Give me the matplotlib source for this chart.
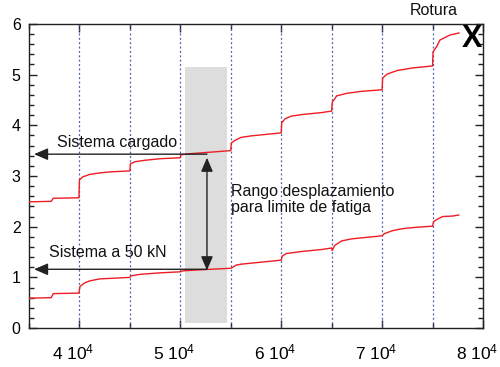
import matplotlib
matplotlib.use("Agg")
import matplotlib.pyplot as plt
from matplotlib.ticker import MultipleLocator, FixedLocator
from matplotlib.patches import Rectangle
from matplotlib.transforms import ScaledTranslation

plt.rcParams['font.family'] = ['Liberation Sans', 'DejaVu Sans']
plt.rcParams['mathtext.default'] = 'regular'

# Upper curve: "Sistema cargado"
x_upper = [35000, 37200, 37400, 39950, 40000, 40300, 41000, 42000, 43000, 45000,
           45050, 45500, 46500, 48000, 50000, 50050, 51000, 53000, 55000, 55050,
           55400, 56000, 57000, 58500, 60000, 60050, 60400, 61000, 62000, 64000,
           65000, 65050, 65500, 66500, 68000, 70000, 70050, 70500, 71500, 73000,
           75000, 75050, 75400, 75730, 76720, 77620]
y_upper = [2.49, 2.50, 2.56, 2.57, 2.92, 2.98, 3.03, 3.06, 3.08, 3.10,
           3.24, 3.28, 3.31, 3.34, 3.36, 3.42, 3.44, 3.47, 3.50, 3.65,
           3.70, 3.76, 3.79, 3.82, 3.85, 4.05, 4.13, 4.18, 4.21, 4.25,
           4.28, 4.45, 4.58, 4.63, 4.67, 4.70, 4.93, 5.01, 5.08, 5.13,
           5.17, 5.45, 5.55, 5.68, 5.78, 5.82]

# Lower curve: "Sistema a 50 kN"
x_lower = [35000, 37200, 37400, 39950, 40050, 40500, 41000, 42000, 43000, 45000,
           45100, 46000, 48000, 50000, 50300, 52000, 55000, 55200, 55500, 56000,
           58000, 60000, 60100, 60500, 62000, 64000, 65000, 65050, 65300, 66000,
           67000, 69000, 70000, 70200, 71000, 72000, 73500, 75000, 75100, 75500,
           76000, 77000, 77600]
y_lower = [0.59, 0.60, 0.68, 0.69, 0.82, 0.89, 0.93, 0.97, 0.98, 1.00,
           1.03, 1.06, 1.09, 1.11, 1.13, 1.15, 1.18, 1.20, 1.24, 1.26,
           1.30, 1.34, 1.42, 1.47, 1.51, 1.55, 1.58, 1.53, 1.63, 1.72,
           1.76, 1.80, 1.82, 1.86, 1.92, 1.96, 1.99, 2.01, 2.10, 2.15,
           2.20, 2.21, 2.23]

cycle_lines = [40000, 45000, 50000, 55000, 60000, 65000, 70000, 75000]
x_ticks = [40000, 50000, 60000, 70000, 80000]
x_tick_labels = ['4 10$^{4}$', '5 10$^{4}$', '6 10$^{4}$', '7 10$^{4}$', '8 10$^{4}$']
y_ticks = [0, 1, 2, 3, 4, 5, 6]

rango_x = [50500, 54600]
rango_y = [0.1, 5.15]
y_cargado = 3.43
y_50kN = 1.16
x_arrow = 52640
x_arrow_tip = 35500

fig = plt.figure(figsize=(5.0, 3.67), dpi=100)
ax = fig.add_axes([0.058, 0.106, 0.908, 0.829])

ax.set_xlim(35000, 80000)
ax.set_ylim(0, 6)

ax.add_patch(Rectangle((rango_x[0], rango_y[0]), rango_x[1] - rango_x[0],
                       rango_y[1] - rango_y[0], facecolor='#dcdddc',
                       edgecolor='none', zorder=1))

for xv in cycle_lines:
    ax.axvline(xv, color='#4a5cb8', lw=0.9, ls=(0, (1.5, 2)), zorder=2)

ax.plot(x_upper, y_upper, color='#ee1c24', lw=1.0, zorder=3)
ax.plot(x_lower, y_lower, color='#ee1c24', lw=1.0, zorder=3)

astyle = '-|>,head_length=0.7,head_width=0.3'
ax.annotate('', xy=(x_arrow_tip, y_cargado), xytext=(x_arrow, y_cargado),
            arrowprops=dict(arrowstyle=astyle, color='#222222', lw=1.0,
                            mutation_scale=12, shrinkA=0, shrinkB=0), zorder=4)
ax.annotate('', xy=(x_arrow_tip, y_50kN), xytext=(x_arrow, y_50kN),
            arrowprops=dict(arrowstyle=astyle, color='#222222', lw=1.0,
                            mutation_scale=12, shrinkA=0, shrinkB=0), zorder=4)
ax.annotate('', xy=(x_arrow, 3.36), xytext=(x_arrow, 1.14),
            arrowprops=dict(arrowstyle='<|-|>,head_length=0.7,head_width=0.3',
                            color='#222222', lw=1.0, mutation_scale=12,
                            shrinkA=0, shrinkB=0), zorder=4)

fs = 11.5
ax.text(43720, 3.57, 'Sistema cargado', ha='center', va='baseline', fontsize=fs, color='#111111')
ax.text(42830, 1.40, 'Sistema a 50 kN', ha='center', va='baseline', fontsize=fs, color='#111111')
ax.text(55020, 2.54, 'Rango desplazamiento\npara limite de fatiga', ha='left', va='center',
        fontsize=fs, linespacing=1.05, color='#111111')
ax.text(75140, 6.26, 'Rotura', ha='center', va='center', fontsize=fs, clip_on=False, color='#111111')
ax.text(78950, 5.70, 'X', ha='center', va='center', fontsize=22, fontweight='bold',
        clip_on=False, color='black', zorder=5)

ax.xaxis.set_major_locator(FixedLocator(x_ticks))
ax.set_xticklabels(x_tick_labels)
ax.xaxis.set_minor_locator(MultipleLocator(5000))
ax.yaxis.set_major_locator(FixedLocator(y_ticks))
ax.yaxis.set_minor_locator(MultipleLocator(0.2))

ax.tick_params(which='both', direction='in', top=True, right=True, labelsize=fs,
               color='#222222')
ax.tick_params(which='major', length=6, width=1)
ax.tick_params(which='minor', length=3.5, width=1)
ax.tick_params(axis='x', pad=10.5, labelsize=12.5)
ax.tick_params(axis='y', pad=6)

offset = ScaledTranslation(-4.5 / 72, 0, fig.dpi_scale_trans)
for lbl in ax.get_xticklabels():
    lbl.set_transform(lbl.get_transform() + offset)

for s in ax.spines.values():
    s.set_linewidth(1.0)
    s.set_color('#222222')

fig.savefig('out.png', dpi=100)
